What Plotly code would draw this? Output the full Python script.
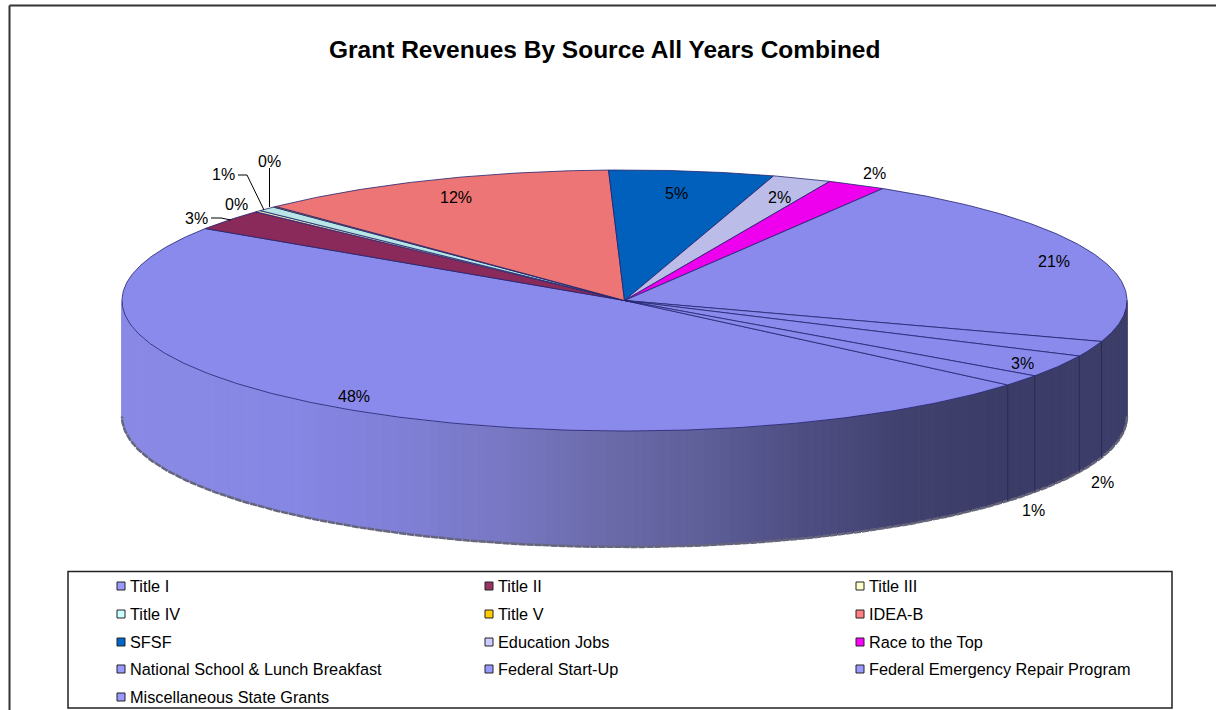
import numpy as np
import plotly.graph_objects as go

categories = ["Title I", "Title II", "Title III", "Title IV", "Title V", "IDEA-B", "SFSF",
              "Education Jobs", "Race to the Top", "National School & Lunch Breakfast",
              "Federal Start-Up", "Federal Emergency Repair Program", "Miscellaneous State Grants"]
values = [48.1, 2.6, 0.2, 0.6, 0.1, 11.7, 5.3, 1.9, 1.9, 21.49, 1.91, 2.8, 1.4]
top_colors = ["#8a8aec", "#8a2a5a", "#e6e6b8", "#b8e6e6", "#e6b800", "#ee7575", "#0060bb",
              "#bcbce8", "#ee00ee", "#8a8aec", "#8a8aec", "#8a8aec", "#8a8aec"]
legend_colors = ["#9999ff", "#993366", "#ffffcc", "#ccffff", "#ffcc00", "#ff8080", "#0066cc",
                 "#ccccff", "#ff00ff", "#9999ff", "#9999ff", "#9999ff", "#9999ff"]

# layout constants (pixels)
CX, CY, RX, RY, DEPTH = 624.5, 300.5, 502.5, 130.5, 116
START_DEG = 40.3
EDGE = "#22226e"
FONT = "Liberation Sans"

def rim(t_deg, dy=0):
    t = np.radians(t_deg)
    return CX + RX * np.cos(t), CY + dy + RY * np.sin(t)

fig = go.Figure()

# side wall, shaded from left to right
shade_x = [122, 300, 400, 500, 600, 700, 800, 900, 1000, 1127]
shade_r = [138, 134, 128, 120, 108, 95, 79, 66, 60, 62]
shade_g = [138, 134, 128, 120, 108, 95, 79, 66, 60, 62]
shade_b = [230, 228, 216, 196, 172, 154, 132, 112, 104, 106]
steps = np.linspace(0, 180, 181)
for a, b in zip(steps[:-1], steps[1:]):
    ts = np.linspace(a, b, 3)
    xs, ys = rim(ts)
    xb, yb = rim(ts[::-1], DEPTH)
    mid = rim((a + b) / 2)[0]
    col = "rgb(%d,%d,%d)" % tuple(np.interp(mid, shade_x, c) for c in (shade_r, shade_g, shade_b))
    fig.add_trace(go.Scatter(x=np.r_[xs, xb, xs[0]], y=np.r_[ys, yb, ys[0]], mode="lines", fill="toself",
                             fillcolor=col, line=dict(color=col, width=1), hoverinfo="skip", showlegend=False))

# speckled lower rim
ts = np.linspace(0, 180, 300)
xb, yb = rim(ts, DEPTH)
fig.add_trace(go.Scatter(x=xb, y=yb, mode="lines", line=dict(color="#66667a", width=2.5, dash="7px,1px"),
                         hoverinfo="skip", showlegend=False))

# slice boundaries on the wall and wedges on the top
cum = START_DEG
for name, v, col in zip(categories, values, top_colors):
    a, b = cum, cum + v * 3.6
    cum = b
    ts = np.linspace(a, b, max(3, int(v * 8)))
    xs, ys = rim(ts)
    fig.add_trace(go.Scatter(x=np.r_[CX, xs, CX], y=np.r_[CY, ys, CY], mode="lines", fill="toself", fillcolor=col,
                             line=dict(color=EDGE, width=0.8), name=name, showlegend=False,
                             hovertemplate=f"{name}: {v}%<extra></extra>"))
    a_norm = a % 360
    if 0 < a_norm < 180:
        x0, y0 = rim(a_norm)
        x1, y1 = rim(a_norm, DEPTH)
        fig.add_trace(go.Scatter(x=[x0, x1], y=[y0, y1], mode="lines", line=dict(color="#2a2a58", width=1),
                                 hoverinfo="skip", showlegend=False))

# percentage labels
label_xy = [(354, 396), (196, 218), (236, 204), (223, 174), (269, 161), (456, 197), (676, 193),
            (779, 197), (874, 173), (1054, 261), (1102, 482), (1022, 363), (1033, 510)]
annotations = [dict(x=x, y=y, text=f"{round(v)}%", showarrow=False, xref="x", yref="y",
                    font=dict(family=FONT, size=16, color="#000000"))
               for (x, y), v in zip(label_xy, values)]
annotations.append(dict(x=604, y=49, text="<b>Grant Revenues By Source All Years Combined</b>", showarrow=False,
                        xref="x", yref="y", font=dict(family=FONT, size=24.5, color="#000000")))

# legend drawn in its three-column grid
col_x = [121, 489, 860]
row_y = [586, 614, 642, 669, 697]
for i, (name, c) in enumerate(zip(categories, legend_colors)):
    x, y = col_x[i % 3], row_y[i // 3]
    fig.add_trace(go.Scatter(x=[x], y=[y], mode="markers", showlegend=False, hoverinfo="skip",
                             marker=dict(symbol="square", size=8, color=c, line=dict(color="#222222", width=1))))
    annotations.append(dict(x=x + 7, y=y, text=name, showarrow=False, xanchor="left", xref="x", yref="y",
                            font=dict(family=FONT, size=16.3, color="#000000")))

def seg(pts, width=1.0, color="#000000"):
    return [dict(type="line", xref="x", yref="y", x0=p[0], y0=p[1], x1=q[0], y1=q[1],
                 line=dict(color=color, width=width)) for p, q in zip(pts[:-1], pts[1:])]

shapes = []
shapes += seg([(211, 218), (221, 218), (231, 220)])
shapes += seg([(238, 175), (247, 175), (264, 210)])
shapes += seg([(269.5, 168), (269.5, 207)])
shapes.append(dict(type="rect", xref="x", yref="y", x0=68, y0=571.5, x1=1172, y1=708,
                   line=dict(color="#222222", width=1.5), fillcolor="rgba(0,0,0,0)"))
shapes += seg([(9.5, 710), (9.5, 5.5), (1216, 5.5)], width=2, color="#333333")

fig.update_layout(
    width=1216, height=710, margin=dict(l=0, r=0, t=0, b=0), showlegend=False,
    paper_bgcolor="#ffffff", plot_bgcolor="#ffffff",
    xaxis=dict(range=[0, 1216], visible=False, fixedrange=True),
    yaxis=dict(range=[710, 0], visible=False, fixedrange=True),
    annotations=annotations, shapes=shapes,
)
fig.write_html("out.html", config=dict(displayModeBar=False),
               post_script="document.body.style.margin='0';document.body.style.overflow='hidden';")
